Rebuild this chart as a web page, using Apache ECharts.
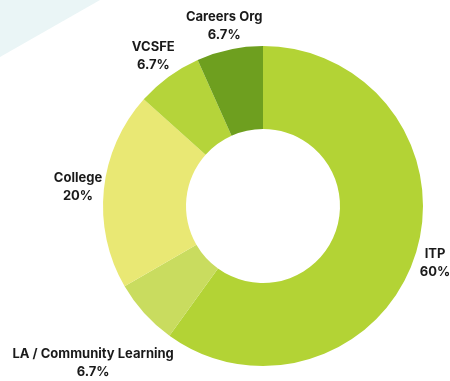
<!DOCTYPE html>
<html>
<head>
<meta charset="utf-8">
<style>
  html, body { margin: 0; padding: 0; background: #ffffff; }
  #chart { width: 450px; height: 381px; }
</style>
<script src="https://cdn.jsdelivr.net/npm/echarts@6/dist/echarts.min.js"></script>
</head>
<body>
<div id="chart"></div>
<script>
// Share of provision by organisation type (percent)
const categories = ['ITP', 'LA / Community Learning', 'College', 'VCSFE', 'Careers Org'];
const shares = [60, 6.7, 20, 6.7, 6.7];
const sliceColors = ['#b3d335', '#c9dc5f', '#e9e874', '#b5d43a', '#6e9f1f'];

const CENTER = [263, 206];
const FONT = 'Inter, "Open Sans", sans-serif';

// small nudges so labels clear the ring and the canvas edge
const labelNudge = {
  'ITP': [-5, 0],
  'LA / Community Learning': [-32, 32],
  'Careers Org': [0, 2]
};

const ringData = categories.map((name, i) => ({
  name,
  value: shares[i],
  itemStyle: { color: sliceColors[i] }
}));

const labelData = categories.map((name, i) => ({
  name,
  value: shares[i],
  label: labelNudge[name] ? { offset: labelNudge[name] } : {}
}));

const chart = echarts.init(document.getElementById('chart'), null, { renderer: 'canvas' });

chart.setOption({
  backgroundColor: '#ffffff',
  animation: false,
  graphic: [{
    type: 'polygon',
    silent: true,
    z: -10,
    shape: { points: [[0, 0], [100, 0], [0, 57]] },
    style: { fill: '#eaf5f6' }
  }],
  series: [
    {
      type: 'pie',
      center: CENTER,
      radius: [77, 160],
      startAngle: 90,
      clockwise: true,
      silent: true,
      label: { show: false },
      labelLine: { show: false },
      itemStyle: { borderWidth: 0 },
      data: ringData
    },
    {
      // transparent outer ring that carries the labels
      type: 'pie',
      center: CENTER,
      radius: [173, 193],
      startAngle: 90,
      clockwise: true,
      silent: true,
      itemStyle: { color: 'rgba(0,0,0,0)' },
      labelLine: { show: false },
      label: {
        show: true,
        position: 'inside',
        formatter: p => '{n|' + p.name + '}\n{v|' + p.value + '%}',
        rich: {
          n: { fontFamily: FONT, fontWeight: 700, fontSize: 13, color: '#1a1a1a', align: 'center', lineHeight: 18 },
          v: { fontFamily: FONT, fontWeight: 700, fontSize: 13, color: '#1a1a1a', align: 'center', lineHeight: 18 }
        }
      },
      data: labelData
    }
  ]
});
</script>
</body>
</html>
